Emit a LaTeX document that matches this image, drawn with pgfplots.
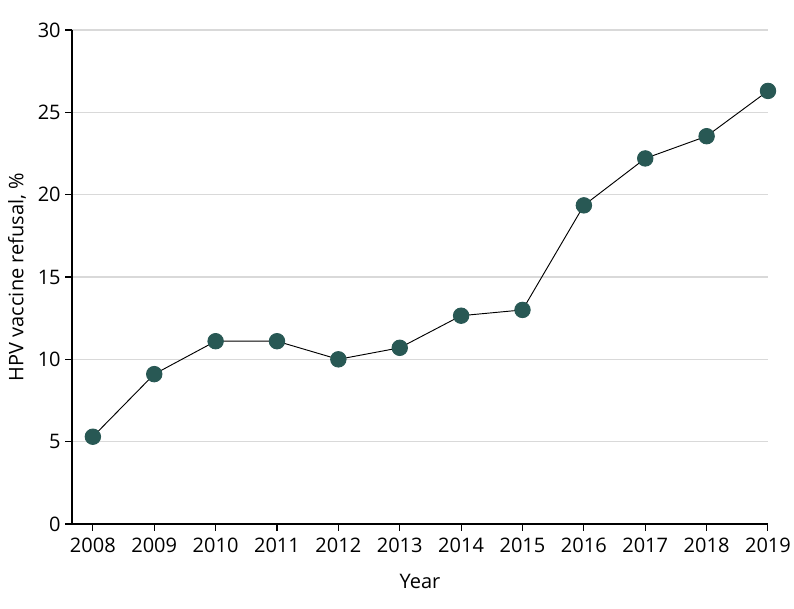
\documentclass[border=0pt]{standalone}
\usepackage{pgfplots}
\pgfplotsset{compat=1.18}
\usepackage{fontspec}
\setmainfont{Open Sans}
\definecolor{teal}{RGB}{40,88,84}
\definecolor{gridgray}{RGB}{217,217,217}
\begin{document}
\begin{tikzpicture}[x=1pt,y=1pt]
\useasboundingbox (0,0) rectangle (595.5,456.75);
\begin{axis}[
  at={(54pt,63.75pt)}, anchor=south west,
  scale only axis, width=522pt, height=370.5pt,
  xmin=2007.66, xmax=2019, ymin=0, ymax=30,
  axis x line*=bottom, axis y line*=left,
  axis line style={black, line width=0.8pt},
  xtick={2008,...,2019}, ytick={0,5,...,30},
  xticklabel style={/pgf/number format/1000 sep={}, yshift=-2pt},
  /pgf/number format/assume math mode=true,
  tick style={black, line width=0.8pt}, tick align=outside, major tick length=5pt,
  ymajorgrids, grid style={gridgray, line width=0.9pt},
  ticklabel style={font=\fontsize{15}{17}\selectfont},
  label style={font=\fontsize{15}{17}\selectfont},
  xlabel={Year}, ylabel={HPV vaccine refusal, \%},
  xlabel style={yshift=-9pt},
  ylabel style={yshift=2pt},
  clip=false,
]
\addplot[black, line width=0.7pt, mark=*, mark size=5.8pt, mark options={fill=teal, draw=teal}]
coordinates {
(2008,5.3) (2009,9.1) (2010,11.1) (2011,11.1) (2012,10.0) (2013,10.7)
(2014,12.65) (2015,13.0) (2016,19.35) (2017,22.2) (2018,23.55) (2019,26.3)
};
\end{axis}
\end{tikzpicture}
\end{document}
